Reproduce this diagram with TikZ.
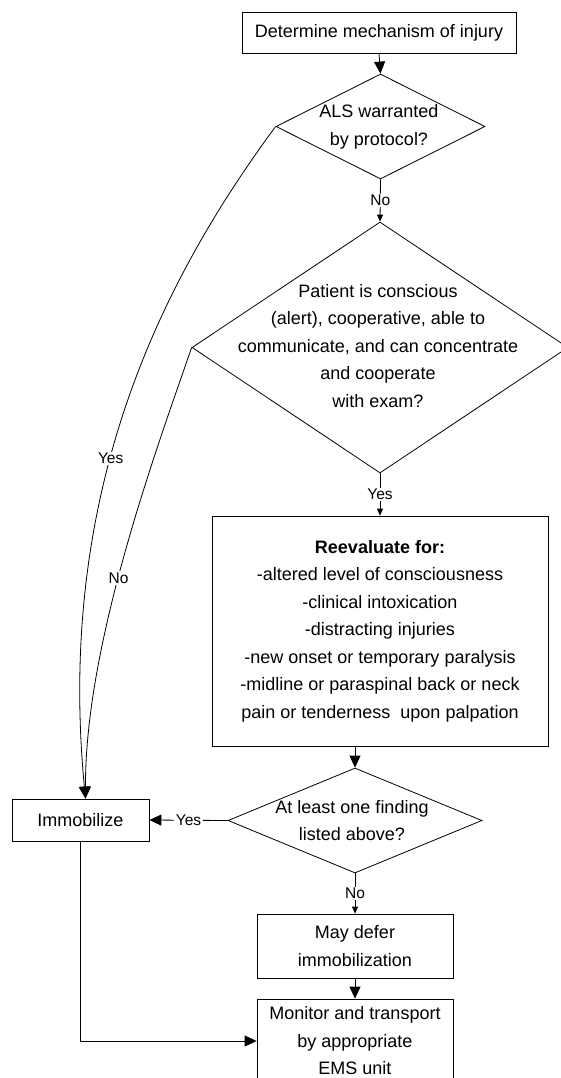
\documentclass[tikz,border=0pt]{standalone}
\usepackage{fontspec}
\setmainfont{Liberation Sans}
\usetikzlibrary{shapes.geometric,arrows.meta}
\begin{document}
\begin{tikzpicture}[x=1pt,y=-1pt,
  line width=0.8pt,
  box/.style={draw, line width=0.8pt, inner sep=0pt, align=center,
              font=\fontsize{18}{27.5}\selectfont},
  dia/.style={draw, diamond, line width=0.8pt, inner sep=0pt},
  txt/.style={align=center, font=\fontsize{18}{27.5}\selectfont, inner sep=0pt},
  lab/.style={font=\fontsize{15.5}{17}\selectfont, fill=white, inner sep=1.5pt},
  big/.style={-{Triangle[length=12pt,width=11pt]}},
  small/.style={-{Triangle[length=7pt,width=6pt]}}]
\useasboundingbox (0,0) rectangle (560,1078);
\fill[white] (0,0) rectangle (560,1078);

% boxes
\node[box, minimum width=274pt, minimum height=41pt] (top) at (379,32.5) {Determine mechanism of injury};
\node[box, minimum width=336pt, minimum height=230pt] (reev) at (380,631)
  {\textbf{Reevaluate for:}\\-altered level of consciousness\\-clinical intoxication\\-distracting injuries\\-new onset or temporary paralysis\\-midline or paraspinal back or neck\\pain or tenderness\ \ upon palpation};
\node[box, minimum width=137pt, minimum height=42pt] (imm) at (80.5,820) {Immobilize};
\node[box, minimum width=196pt, minimum height=64pt] (defer) at (355,946) {May defer\\immobilization};
\node[box, minimum width=196pt, minimum height=84pt] (mon) at (355,1041) {Monitor and transport\\by appropriate\\EMS unit};

% diamonds
\node[dia, minimum width=209pt, minimum height=105pt] (d1) at (380.5,126.5) {};
\node[txt] (d1t) at (379,127) {ALS warranted\\by protocol?};
\node[dia, minimum width=376pt, minimum height=251pt] (d2) at (380,347.5) {};
\node[txt] (d2t) at (378,346) {Patient is conscious\\(alert), cooperative, able to\\communicate, and can concentrate\\and cooperate\\with exam?};
\node[dia, minimum width=254pt, minimum height=105pt] (d3) at (355,820.5) {};
\node[txt] (d3t) at (352,820.5) {At least one finding\\listed above?};

\coordinate (immtip) at ([xshift=5pt]imm.north);
\coordinate (reevb) at (355,746);

% connectors
\draw[big] (top.south) -- (d1.north);
\draw[small] (d1.south) -- node[lab]{No} (d2.north);
\draw[small] (d2.south) -- node[lab]{Yes} (d2.south |- reev.north);
\draw[big] (reevb) -- (d3.north);
\draw[big] (d3.west) -- node[lab]{Yes} (imm.east);
\draw[small] (d3.south) -- node[lab]{No} (defer.north);
\draw[big] (defer.south) -- (mon.north);
\draw[big] (imm.south) |- (mon.west);
\draw[big] (d1.west) .. controls (170,270) and (55,480) .. node[lab,pos=0.59]{Yes} (immtip);
\draw[big] (d2.west) .. controls (160,440) and (85,640) .. node[lab,pos=0.56]{No} (immtip);
\end{tikzpicture}
\end{document}
